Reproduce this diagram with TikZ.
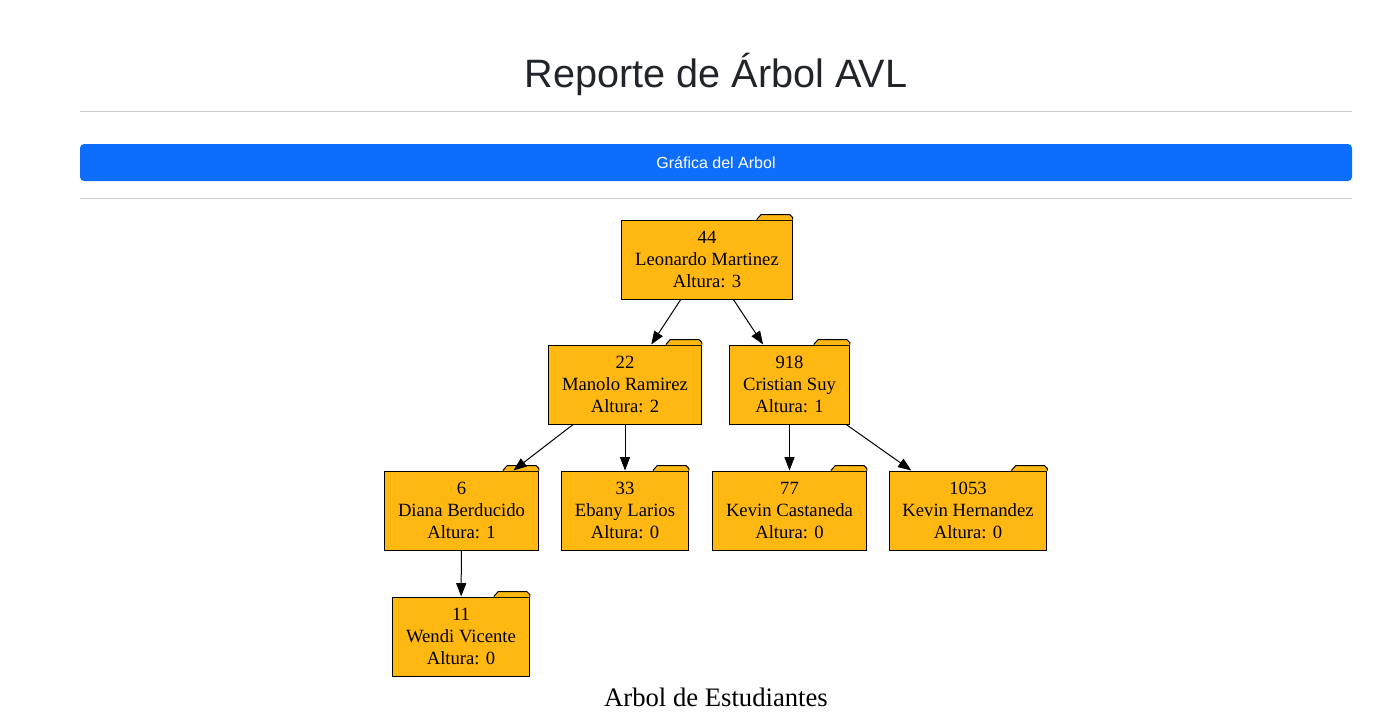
\documentclass[tikz,border=0pt]{standalone}
\usepackage{fontspec}
\setmainfont{Liberation Serif}
\newfontfamily\headfont{Liberation Sans}
\usetikzlibrary{arrows.meta,calc}
\definecolor{folderfill}{RGB}{255,184,18}
\definecolor{btnblue}{RGB}{13,110,253}
\definecolor{titlegray}{RGB}{33,37,41}
\definecolor{rulegray}{RGB}{204,204,204}
\newcommand{\nodefont}{\fontsize{14}{16.5}\selectfont}

\begin{document}
\begin{tikzpicture}[x=0.75pt,y=-0.75pt,
  folder/.style={draw,fill=folderfill,line width=0.75pt,align=center,font=\nodefont,
    inner xsep=10pt,minimum height=59.25pt},
  tree/.style={-{Triangle[length=10pt,width=7.5pt]},line width=0.75pt}]
\useasboundingbox[fill=white] (0,0) rectangle (1392,726);

% cabecera
\node (titulo) at (716,87) [anchor=base,font=\headfont\fontsize{29.7}{36}\selectfont,text=titlegray] {Reporte de Árbol AVL};
\draw[rulegray,line width=0.75pt] (80,111) -- (1352,111);
\node (boton) at (716,162.5) [fill=btnblue,rounded corners=3pt,minimum width=954pt,minimum height=27.75pt,
  text=white,font=\headfont\fontsize{12}{14}\selectfont] {Gráfica del Arbol};
\draw[rulegray,line width=0.75pt] (80,198) -- (1352,198);

% arbol
\node[folder] (avl-44) at (707,259.5) {44\\Leonardo Martinez\\Altura: 3};
\node[folder] (avl-22) at (625,384.5) {22\\Manolo Ramirez\\Altura: 2};
\node[folder] (avl-918) at (789.5,384.5) {918\\Cristian Suy\\Altura: 1};
\node[folder] (avl-6) at (461.5,510.5) {6\\Diana Berducido\\Altura: 1};
\node[folder] (avl-33) at (625,510.5) {33\\Ebany Larios\\Altura: 0};
\node[folder] (avl-77) at (789.5,510.5) {77\\Kevin Castaneda\\Altura: 0};
\node[folder] (avl-1053) at (968,510.5) {1053\\Kevin Hernandez\\Altura: 0};
\node[folder] (avl-11) at (461,636.5) {11\\Wendi Vicente\\Altura: 0};

% pestanas
\foreach \n in {avl-44,avl-22,avl-918,avl-6,avl-33,avl-77,avl-1053,avl-11} {
  \fill[folderfill] ($(\n.north east)+(-36,0.7)$) -- ++(4.5,-5.7) -- ++(28.5,0) -- ++(3,3) -- ++(0,2.7) -- cycle;
  \draw[line width=0.75pt,line join=round] ($(\n.north east)+(-36,0)$) -- ++(4.5,-5) -- ++(28.5,0) -- ++(3,3) -- ++(0,2);
}

\path[tree] (avl-44) edge (avl-22);
\path[tree] (avl-44) edge (avl-918);
\path[tree] (avl-22) edge (avl-6);
\path[tree] (avl-22) edge (avl-33);
\path[tree] (avl-918) edge (avl-77);
\path[tree] (avl-918) edge (avl-1053);
\path[tree] (avl-6) edge (avl-11);

\node (pie) at (716,697) [font=\fontsize{20}{24}\selectfont] {Arbol de Estudiantes};
\end{tikzpicture}
\end{document}
